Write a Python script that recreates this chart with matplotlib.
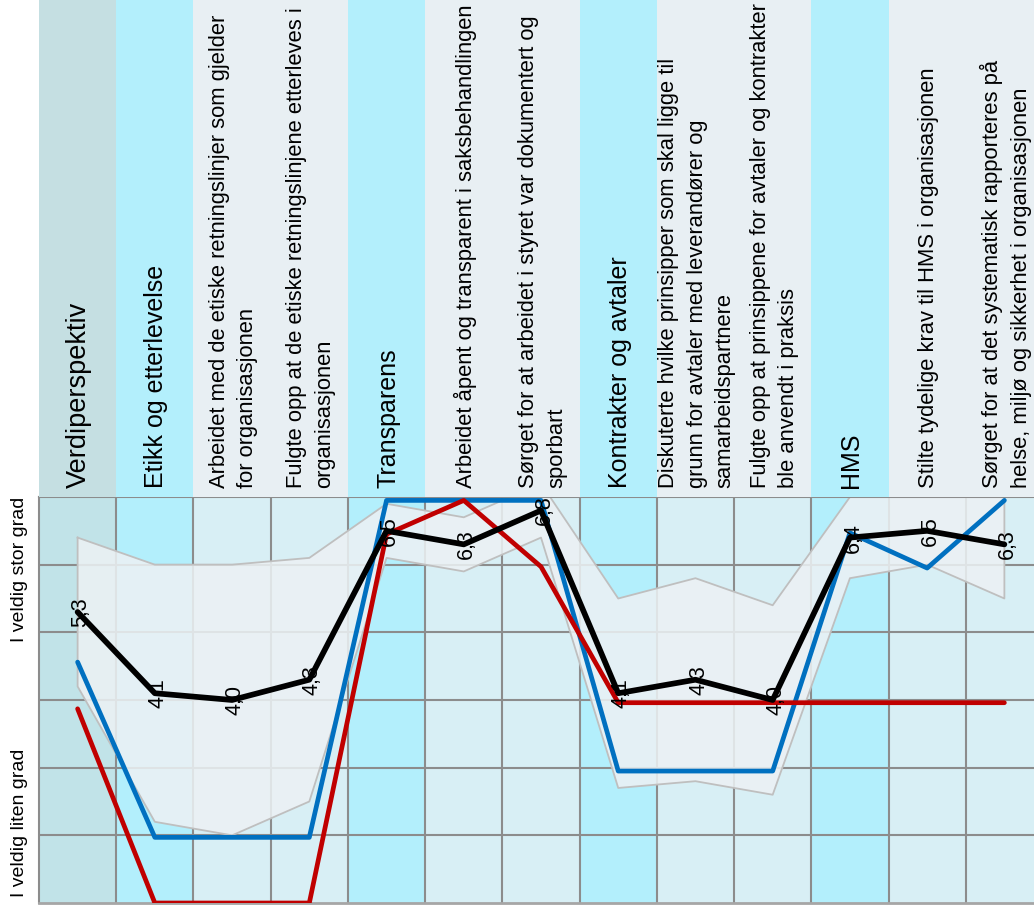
import matplotlib
matplotlib.use("Agg")
import matplotlib.pyplot as plt
import numpy as np

plt.rcParams['font.family'] = ['Liberation Sans', 'DejaVu Sans']

# ---- data ----
categories = [
    "Verdiperspektiv",
    "Etikk og etterlevelse",
    "Arbeidet med de etiske retningslinjer som gjelder\nfor organisasjonen",
    "Fulgte opp at de etiske retningslinjene etterleves i\norganisasjonen",
    "Transparens",
    "Arbeidet åpent og transparent i saksbehandlingen",
    "Sørget for at arbeidet i styret var dokumentert og\nsporbart",
    "Kontrakter og avtaler",
    "Diskuterte hvilke prinsipper som skal ligge til\ngrunn for avtaler med leverandører og\nsamarbeidspartnere",
    "Fulgte opp at prinsippene for avtaler og kontrakter\nble anvendt i praksis",
    "HMS",
    "Stilte tydelige krav til HMS i organisasjonen",
    "Sørget for at det systematisk rapporteres på\nhelse, miljø og sikkerhet i organisasjonen",
]
kinds = ["root", "section", "item", "item", "section", "item", "item",
         "section", "item", "item", "section", "item", "item"]

mean_values = [5.3, 4.1, 4.0, 4.3, 6.5, 6.3, 6.8, 4.1, 4.3, 4.0, 6.4, 6.5, 6.3]
band_lower = [4.2, 2.2, 2.0, 2.5, 6.1, 5.9, 6.4, 2.7, 2.8, 2.6, 5.8, 6.0, 5.5]
band_upper = [6.4, 6.0, 6.0, 6.1, 6.9, 6.7, 7.2, 5.5, 5.8, 5.4, 7.0, 7.0, 7.1]
blue_values = [4.56, 1.97, 1.97, 1.97, 6.95, 6.95, 6.95, 2.95, 2.95, 2.95, 6.47, 5.95, 6.95]
red_values = [3.87, 1.0, 1.0, 1.0, 6.45, 6.95, 5.97, 3.96, 3.96, 3.96, 3.96, 3.96, 3.96]

y_label_high = "I veldig stor grad"
y_label_low = "I veldig liten grad"

# ---- style ----
header_colors = {"root": "#c5dfe2", "section": "#b3effc", "item": "#e8eff3"}
plot_colors = {"root": "#c1e3e8", "section": "#b3effc", "item": "#d8eff5"}
header_sizes = {"root": 19.5, "section": 18, "item": 15.8}

W, H = 1034, 910
fig = plt.figure(figsize=(W / 100, H / 100), dpi=100)
fig.patch.set_facecolor("white")

left, right, top, bottom = 39, 1043, 497, 903
ax = fig.add_axes([left / W, (H - bottom) / H, (right - left) / W, (bottom - top) / H])
hax = fig.add_axes([left / W, (H - top) / H, (right - left) / W, top / H])

n = len(categories)
x = np.arange(n)

# header
hax.set_xlim(-0.5, n - 0.5)
hax.set_ylim(0, top)
hax.axis("off")
for i, (lab, k) in enumerate(zip(categories, kinds)):
    hax.axvspan(i - 0.5, i + 0.5, color=header_colors[k], lw=0, zorder=0)
    hax.text(i + 0.02, 9, lab, rotation=90, ha="center", va="bottom",
             fontsize=header_sizes[k], linespacing=1.45,
             multialignment="left", color="black", zorder=2)

# plot area
ax.set_xlim(-0.5, n - 0.5)
ax.set_ylim(1, 7)
for i, k in enumerate(kinds):
    ax.axvspan(i - 0.5, i + 0.5, color=plot_colors[k], lw=0, zorder=0)
grid_c = "#8c8c8c"
for xv in np.arange(0.5, n - 0.5, 1):
    ax.axvline(xv, color=grid_c, lw=1.5, zorder=1)
for yv in range(2, 7):
    ax.axhline(yv, color=grid_c, lw=1.5, zorder=1)
ax.set_xticks([])
ax.set_yticks([])
for s in ["left", "top"]:
    ax.spines[s].set_color(grid_c)
    ax.spines[s].set_linewidth(1.5)
ax.spines["bottom"].set_color("#a6a6a6")
ax.spines["bottom"].set_linewidth(2)
ax.spines["right"].set_visible(False)

# band
ax.fill_between(x, band_lower, band_upper, facecolor=(236 / 255, 241 / 255, 244 / 255, 0.865),
                edgecolor="none", zorder=2)
poly_x = np.concatenate([x, x[::-1], x[:1]])
poly_y = np.concatenate([band_upper, band_lower[::-1], band_upper[:1]])
ax.plot(poly_x, poly_y, color="#bfbfbf", lw=1.3, zorder=2.1)

ax.plot(x, blue_values, color="#0070c0", lw=3.4, solid_capstyle="round", zorder=3)
ax.plot(x, red_values, color="#c00000", lw=3.4, solid_capstyle="round", zorder=3.1)
ax.plot(x, mean_values, color="black", lw=4.1, solid_capstyle="round", zorder=3.2)

for xi, v in zip(x, mean_values):
    ax.text(xi + 0.04, v, f"{v:.1f}".replace(".", ","), rotation=90, ha="center",
            va="center", fontsize=15.5, color="black", zorder=4)

# y-axis labels
fig.text(20 / W, (H - top) / H, y_label_high, rotation=90, ha="center", va="top", fontsize=14)
fig.text(20 / W, (H - 897) / H, y_label_low, rotation=90, ha="center", va="bottom", fontsize=14)

fig.savefig("out.png", dpi=100)
